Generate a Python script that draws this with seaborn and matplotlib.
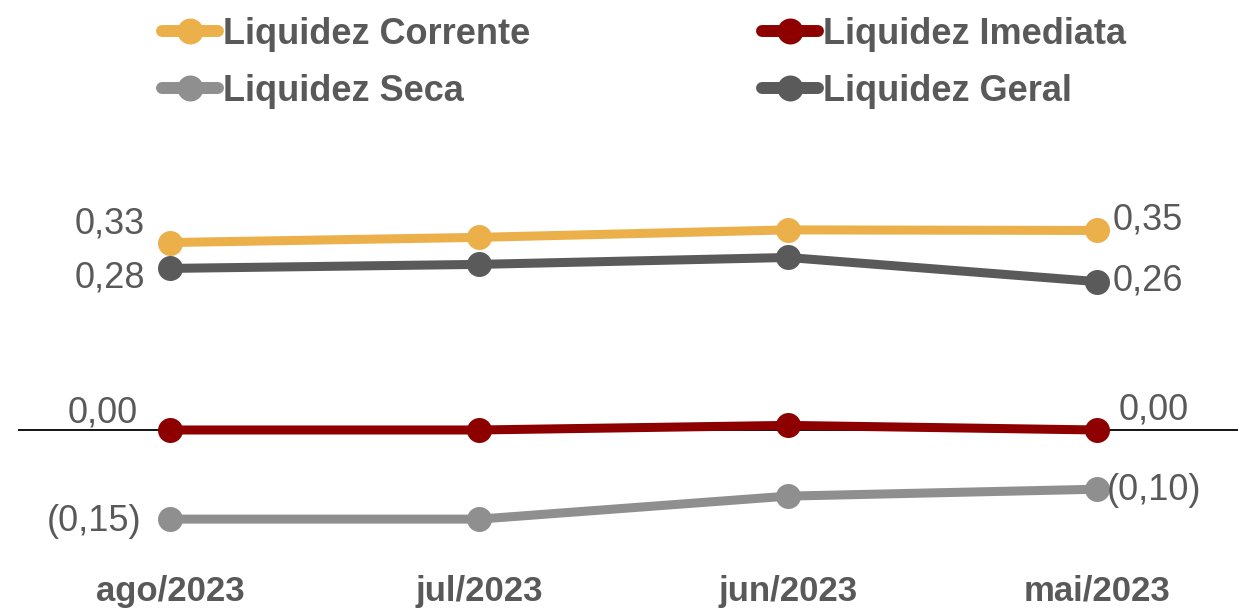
import pandas as pd
import seaborn as sns
import matplotlib.pyplot as plt
from matplotlib.lines import Line2D

meses = ["ago/2023", "jul/2023", "jun/2023", "mai/2023"]
corrente = [0.326, 0.335, 0.348, 0.347]
imediata = [0.0, 0.0, 0.008, 0.0]
seca = [-0.155, -0.155, -0.115, -0.103]
geral = [0.281, 0.288, 0.300, 0.258]

series = ["Liquidez Corrente", "Liquidez Imediata", "Liquidez Seca", "Liquidez Geral"]
cores = ["#EBB04A", "#8E0000", "#8F8F8F", "#5A5A5A"]
texto_cor = "#595959"

rows = []
for nome, vals in zip(series, [corrente, imediata, seca, geral]):
    for m, v in zip(meses, vals):
        rows.append([m, v, nome])
df = pd.DataFrame(rows, columns=["mes", "valor", "serie"])

sns.set_style("white")
plt.rcParams["font.family"] = ["Liberation Sans", "DejaVu Sans"]

fig = plt.figure(figsize=(12.38, 6.08), dpi=100)
ax = fig.add_axes([18 / 1238, 43 / 608, 1 - 18 / 1238, (565 - 130) / 608])

ax.axhline(0, color="black", lw=1.3, zorder=1)
sns.lineplot(data=df, x="mes", y="valor", hue="serie", hue_order=series,
             palette=cores, marker="o", markersize=18, markeredgewidth=0,
             linewidth=6.5, legend=False, ax=ax, zorder=3)

ax.set_xlim(-0.492, 3.456)
ax.set_ylim(-0.2348, 0.5217)
ax.set_yticks([])
ax.set_xlabel("")
ax.set_ylabel("")
for s in ax.spines.values():
    s.set_visible(False)
ax.set_xticks(range(len(meses)))
ax.set_xticklabels(meses, fontsize=25, fontweight="bold", color=texto_cor)
ax.tick_params(axis="x", length=0, pad=7)


def fmt(v):
    s = f"{abs(v):.2f}".replace(".", ",")
    return f"({s})" if v < -0.005 else s


# (serie values, left offset, right offset) in pixels
offsets = [
    (corrente, (-25, 19), (16, 10)),
    (imediata, (-32, 17), (22, 20)),
    (seca, (-29, -2), (10, -1)),
    (geral, (-25, -10), (16, 1)),
]
for vals, lo, ro in offsets:
    ax.annotate(fmt(vals[0]), (0, vals[0]), xytext=lo, textcoords="offset pixels",
                ha="right", va="center", fontsize=26, color=texto_cor)
    ax.annotate(fmt(vals[-1]), (3, vals[-1]), xytext=ro, textcoords="offset pixels",
                ha="left", va="center", fontsize=26, color=texto_cor)

ordem = [0, 2, 1, 3]
handles = [Line2D([0], [0], color=cores[i], lw=8.6, marker="o", markersize=18.7,
                  markeredgewidth=0, solid_capstyle="round") for i in ordem]
labels = [series[i] for i in ordem]
fig.legend(handles, labels, loc="upper left", bbox_to_anchor=(162 / 1238, 1 - 17 / 608),
           ncol=2, frameon=False, borderpad=0, borderaxespad=0, handlelength=1.55,
           handletextpad=0.15, columnspacing=6.4, labelspacing=0.6,
           prop={"size": 26, "weight": "bold"}, labelcolor=texto_cor)

fig.savefig("out.png", dpi=100)
